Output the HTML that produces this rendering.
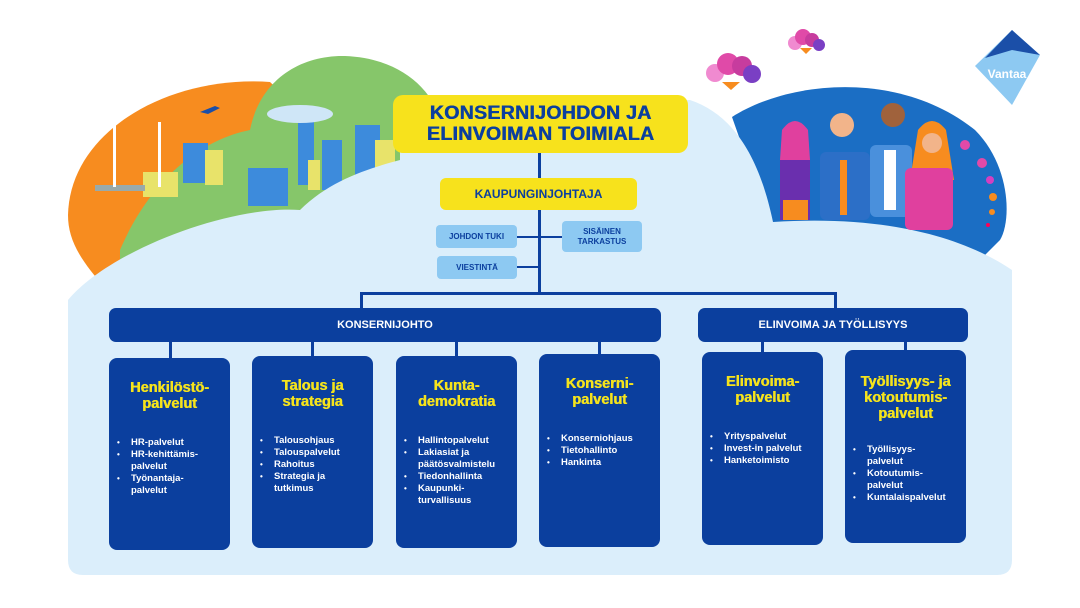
<!DOCTYPE html>
<html><head><meta charset="utf-8"><style>
body{margin:0;width:1080px;height:608px;background:#fff;position:relative;overflow:hidden;font-family:"Liberation Sans",Arial,sans-serif}
.a{position:absolute;box-sizing:border-box}
.bar{background:#0b3f9e;color:#fff;font-weight:bold;font-size:11px;border-radius:7px;display:flex;align-items:center;justify-content:center}
.col{background:#0b3f9e;border-radius:8px;color:#fff}
.col h3{margin:0;color:#f5e31c;font-size:14.5px;line-height:16px;text-align:center;font-weight:bold;text-shadow:0.5px 0 0 #f5e31c}
.col ul{margin:0;padding:0 0 0 22px;font-size:9.5px;font-weight:bold;line-height:12px;list-style:none}
.col li{position:relative}
.col li:before{content:"•";position:absolute;left:-14px;font-size:8px}
.sm{background:#8dc9f2;color:#0b3f9e;font-weight:bold;font-size:8px;border-radius:4px;display:flex;align-items:center;justify-content:center;text-align:center;line-height:10px}
.ln{background:#0b3f9e}
</style></head><body>
<svg class="a" style="left:0;top:0" width="1080" height="608">
<path d="M68,215 C70,130 170,75 270,82 L310,120 L200,290 L107,290 C80,260 68,240 68,215Z" fill="#f78c1f"/>
<path d="M120,250 C150,180 200,140 250,130 C260,80 300,55 345,56 C400,58 440,90 445,140 L445,240 L120,260 Z" fill="#86c66a"/>
<path d="M732,117 C790,80 900,70 975,130 C1010,165 1012,220 1000,240 L975,265 L770,225 Z" fill="#1b6ec4"/>
<g fill="#3d8bdc"><rect x="183" y="143" width="25" height="40"/><rect x="248" y="168" width="40" height="38"/><rect x="298" y="110" width="16" height="75"/><rect x="322" y="140" width="20" height="50"/><rect x="355" y="125" width="25" height="55"/></g>
<g fill="#e8e36a"><rect x="205" y="150" width="18" height="35"/><rect x="143" y="172" width="35" height="25"/><rect x="375" y="140" width="20" height="40"/><rect x="308" y="160" width="12" height="30"/></g>
<ellipse cx="300" cy="114" rx="33" ry="9" fill="#cfe6f7"/>
<path d="M200,112 l15,-6 l5,2 l-12,6z" fill="#1b4fa8"/>
<rect x="95" y="185" width="50" height="6" fill="#9aa"/>
<g fill="#fff"><rect x="113" y="122" width="3" height="65"/><rect x="158" y="122" width="3" height="65"/></g>
<path d="M68,300 C110,250 230,205 300,210 C330,180 370,168 400,160 L400,100 L690,100 C735,115 760,160 773,222 C880,215 960,235 1012,270 L1012,560 Q1012,575 997,575 L83,575 Q68,575 68,560 Z" fill="#dbeefb"/>
<g><circle cx="795" cy="138" r="11" fill="#f2b48a"/><path d="M782,130 q13,-18 26,0 l2,30 l-30,0z" fill="#e0409e"/><rect x="780" y="160" width="30" height="60" fill="#6a2fae"/><rect x="783" y="200" width="25" height="20" fill="#f78c1f"/>
<circle cx="842" cy="125" r="12" fill="#f2b48a"/><rect x="820" y="152" width="50" height="68" rx="6" fill="#2c6fc7"/><rect x="840" y="160" width="7" height="55" fill="#f78c1f"/>
<circle cx="893" cy="115" r="12" fill="#a0623c"/><rect x="870" y="145" width="42" height="72" rx="6" fill="#4a90dc"/><rect x="884" y="150" width="12" height="60" fill="#fff"/>
<path d="M918,130 q14,-18 28,0 l8,50 l-44,0z" fill="#f78c1f"/><circle cx="932" cy="143" r="10" fill="#f2b48a"/><rect x="905" y="168" width="48" height="62" rx="6" fill="#e0409e"/>
<circle cx="965" cy="145" r="5" fill="#e24aa8"/><circle cx="982" cy="163" r="5" fill="#e24aa8"/><circle cx="990" cy="180" r="4" fill="#d43fc0"/><circle cx="993" cy="197" r="4" fill="#f78c1f"/><circle cx="992" cy="212" r="3" fill="#f78c1f"/><circle cx="988" cy="225" r="2" fill="#f05"/></g>
<g><circle cx="715" cy="73" r="9" fill="#f08ad0"/><circle cx="728" cy="64" r="11" fill="#e04aa8"/><circle cx="742" cy="66" r="10" fill="#c73c9e"/><circle cx="752" cy="74" r="9" fill="#7a3fc4"/><path d="M722,82 L740,82 L731,90Z" fill="#f78c1f"/>
<circle cx="795" cy="43" r="7" fill="#f08ad0"/><circle cx="803" cy="37" r="8" fill="#e04aa8"/><circle cx="812" cy="40" r="7" fill="#c73c9e"/><circle cx="819" cy="45" r="6" fill="#7a3fc4"/><path d="M800,48 L812,48 L806,54Z" fill="#f78c1f"/></g>
<path d="M1012,30 L1040,55 L1012,105 L975,66 Z" fill="#8dc9f2"/><path d="M1012,30 L1040,55 L1012,50 L985,58Z" fill="#1b4fa8"/>
<text x="1007" y="78" font-family="Liberation Sans" font-weight="bold" font-size="12" fill="#fff" text-anchor="middle">Vantaa</text>
</svg>
<div class="a" style="left:393px;top:95px;width:295px;height:58px;background:#f7e21c;border-radius:10px;color:#0b3f9e;font-weight:900;font-size:19.5px;line-height:21px;text-align:center;padding-top:8px;letter-spacing:0.3px;text-shadow:0.6px 0 0 #0b3f9e">KONSERNIJOHDON JA<br>ELINVOIMAN TOIMIALA</div>
<div class="a ln" style="left:538px;top:153px;width:3px;height:141px"></div>
<div class="a" style="left:440px;top:178px;width:197px;height:32px;background:#f7e21c;border-radius:6px;color:#0b3f9e;font-weight:bold;font-size:12px;display:flex;align-items:center;justify-content:center">KAUPUNGINJOHTAJA</div>
<div class="a ln" style="left:516px;top:236px;width:24px;height:2px"></div>
<div class="a ln" style="left:517px;top:266px;width:22px;height:2px"></div>
<div class="a ln" style="left:540px;top:236px;width:22px;height:2px"></div>
<div class="a sm" style="left:436px;top:225px;width:81px;height:23px">JOHDON TUKI</div>
<div class="a sm" style="left:437px;top:256px;width:80px;height:23px">VIESTINTÄ</div>
<div class="a sm" style="left:562px;top:221px;width:80px;height:31px">SISÄINEN<br>TARKASTUS</div>
<div class="a ln" style="left:360px;top:292px;width:477px;height:3px"></div>
<div class="a ln" style="left:360px;top:292px;width:3px;height:17px"></div>
<div class="a ln" style="left:834px;top:292px;width:3px;height:17px"></div>
<div class="a bar" style="left:109px;top:308px;width:552px;height:34px">KONSERNIJOHTO</div>
<div class="a bar" style="left:698px;top:308px;width:270px;height:34px">ELINVOIMA JA TYÖLLISYYS</div>
<div class="a ln" style="left:169px;top:341px;width:3px;height:18px"></div>
<div class="a ln" style="left:311px;top:341px;width:3px;height:16px"></div>
<div class="a ln" style="left:455px;top:341px;width:3px;height:16px"></div>
<div class="a ln" style="left:598px;top:341px;width:3px;height:14px"></div>
<div class="a ln" style="left:761px;top:341px;width:3px;height:12px"></div>
<div class="a ln" style="left:904px;top:341px;width:3px;height:10px"></div>
<div class="a col" style="left:109px;top:358px;width:121px;height:192px;padding-top:22px"><h3>Henkilöstö-<br>palvelut</h3><ul style="margin-top:25px"><li>HR-palvelut</li><li>HR-kehittämis-<br>palvelut</li><li>Työnantaja-<br>palvelut</li></ul></div>
<div class="a col" style="left:252px;top:356px;width:121px;height:192px;padding-top:22px"><h3>Talous ja<br>strategia</h3><ul style="margin-top:25px"><li>Talousohjaus</li><li>Talouspalvelut</li><li>Rahoitus</li><li>Strategia ja<br>tutkimus</li></ul></div>
<div class="a col" style="left:396px;top:356px;width:121px;height:192px;padding-top:22px"><h3>Kunta-<br>demokratia</h3><ul style="margin-top:25px"><li>Hallintopalvelut</li><li>Lakiasiat ja<br>päätösvalmistelu</li><li>Tiedonhallinta</li><li>Kaupunki-<br>turvallisuus</li></ul></div>
<div class="a col" style="left:539px;top:354px;width:121px;height:193px;padding-top:22px"><h3>Konserni-<br>palvelut</h3><ul style="margin-top:25px"><li>Konserniohjaus</li><li>Tietohallinto</li><li>Hankinta</li></ul></div>
<div class="a col" style="left:702px;top:352px;width:121px;height:193px;padding-top:22px"><h3>Elinvoima-<br>palvelut</h3><ul style="margin-top:25px"><li>Yrityspalvelut</li><li>Invest-in palvelut</li><li>Hanketoimisto</li></ul></div>
<div class="a col" style="left:845px;top:350px;width:121px;height:193px;padding-top:24px"><h3>Työllisyys- ja<br>kotoutumis-<br>palvelut</h3><ul style="margin-top:22px"><li>Työllisyys-<br>palvelut</li><li>Kotoutumis-<br>palvelut</li><li>Kuntalaispalvelut</li></ul></div>
</body></html>
